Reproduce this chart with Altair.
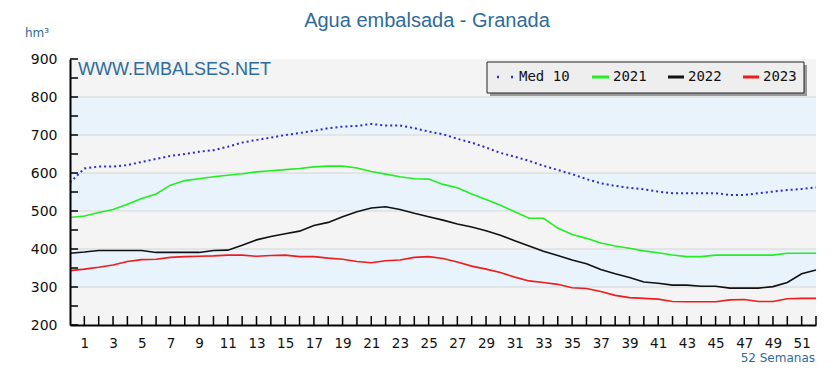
import altair as alt
import pandas as pd

# ---------------- data ----------------
weeks = list(range(0, 53))
med10 = [575, 612, 617, 617, 621, 629, 637, 645, 650, 656, 660, 669, 680, 687, 693,
         700, 705, 711, 718, 722, 724, 729, 725, 725, 718, 709, 702, 690, 680, 667,
         653, 643, 632, 619, 608, 597, 584, 573, 566, 561, 557, 551, 547, 547, 547,
         547, 542, 542, 547, 551, 555, 558, 562]
y2021 = [483, 487, 496, 504, 518, 533, 545, 568, 580, 585, 590, 594, 598, 603, 606,
         609, 612, 616, 618, 618, 613, 604, 597, 590, 585, 584, 570, 561, 545, 530,
         515, 498, 481, 481, 455, 438, 428, 416, 408, 402, 395, 390, 384, 380, 380,
         384, 384, 384, 384, 384, 389, 389, 389]
y2022 = [389, 392, 396, 396, 396, 396, 391, 391, 391, 391, 396, 397, 410, 424, 433,
         440, 447, 462, 470, 485, 498, 508, 511, 504, 494, 485, 476, 466, 458, 448,
         436, 422, 408, 394, 383, 371, 361, 346, 335, 325, 313, 310, 305, 305, 302,
         302, 297, 297, 297, 301, 312, 335, 345]
y2023 = [343, 347, 352, 358, 367, 372, 373, 378, 380, 381, 382, 384, 384, 381, 383,
         384, 380, 380, 376, 373, 367, 364, 369, 371, 378, 380, 375, 366, 355, 347,
         338, 326, 316, 312, 307, 298, 296, 288, 278, 272, 270, 268, 262, 261, 261,
         261, 266, 267, 262, 262, 269, 270, 270]

series_names = ["Med 10", "2021", "2022", "2023"]
series_colors = ["#2b2bd6", "#22ee22", "#111111", "#ee1c1c"]

y_grid = [300, 400, 500, 600, 700, 800]
y_labels = [200, 300, 400, 500, 600, 700, 800, 900]
y_minor = list(range(200, 901, 50))
x_label_weeks = list(range(1, 52, 2))
x_tick_weeks = list(range(1, 53))
band_lo = [200, 300, 400, 500, 600, 700, 800]
band_hi = [300, 400, 500, 600, 700, 800, 900]
band_col = ["#f4f4f4", "#e9f3fb", "#f4f4f4", "#e9f3fb", "#f4f4f4", "#e9f3fb", "#f4f4f4"]

title_text = "Agua embalsada - Granada"
unit_text = "hm³"
site_text = "WWW.EMBALSES.NET"
weeks_text = "52 Semanas"

W, H = 746, 266
BLUE_TXT = "#2f6b9a"
FONT = "DejaVu Sans"

# ---------------- tables ----------------
rows = []
for name, vals in zip(series_names, [med10, y2021, y2022, y2023]):
    for w, v in zip(weeks, vals):
        rows.append({"week": w, "value": v, "series": name})
df = pd.DataFrame(rows)
bands = pd.DataFrame({"lo": band_lo, "hi": band_hi, "col": band_col})
grid_df = pd.DataFrame({"v": y_grid})
ytick_df = pd.DataFrame({"v": y_minor})
xtick_df = pd.DataFrame({"week": x_tick_weeks})
one = pd.DataFrame({"a": [0]})

xscale = alt.Scale(domain=[0, 52], nice=False, zero=False)
yscale = alt.Scale(domain=[200, 900], nice=False, zero=False)

xaxis = alt.Axis(values=x_label_weeks, title=None, ticks=False, grid=False,
                 domainColor="#000000", domainWidth=2, labelFont=FONT,
                 labelFontSize=13.5, labelColor="#111111", labelPadding=11,
                 labelFlush=False, zindex=1)
yaxis = alt.Axis(values=y_labels, title=None, ticks=False, grid=False,
                 domainColor="#000000", domainWidth=2, labelFont=FONT,
                 labelFontSize=14, labelColor="#111111", labelPadding=13,
                 labelFlush=False, zindex=1)

band_layer = alt.Chart(bands).mark_rect().encode(
    x=alt.value(0), x2=alt.value(W),
    y=alt.Y("lo:Q", scale=yscale, axis=yaxis), y2="hi:Q",
    color=alt.Color("col:N", scale=None),
)

grid_layer = alt.Chart(grid_df).mark_rule(color="#d6d6d6", strokeWidth=1).encode(
    x=alt.value(0), x2=alt.value(W),
    y=alt.Y("v:Q", scale=yscale, axis=yaxis),
)

ytick_layer = alt.Chart(ytick_df).mark_rule(color="#000000", strokeWidth=1.5).encode(
    x=alt.value(0), x2=alt.value(8),
    y=alt.Y("v:Q", scale=yscale, axis=yaxis),
)

xtick_layer = alt.Chart(xtick_df).mark_rule(color="#000000", strokeWidth=1.5).encode(
    x=alt.X("week:Q", scale=xscale, axis=xaxis),
    y=alt.value(H), y2=alt.value(H - 9),
)

med_layer = alt.Chart(df[df.series == "Med 10"]).mark_line(
    strokeDash=[2, 3], strokeWidth=2, color=series_colors[0]
).encode(
    x=alt.X("week:Q", scale=xscale, axis=xaxis),
    y=alt.Y("value:Q", scale=yscale, axis=yaxis),
)

year_layer = alt.Chart(df[df.series != "Med 10"]).mark_line(strokeWidth=1.6).encode(
    x=alt.X("week:Q", scale=xscale, axis=xaxis),
    y=alt.Y("value:Q", scale=yscale, axis=yaxis),
    color=alt.Color("series:N", scale=alt.Scale(domain=series_names, range=series_colors),
                    legend=None),
    detail="series:N",
)

def txt(text, x, y, size, color, font=FONT, align="left", baseline="middle"):
    return alt.Chart(one).mark_text(
        text=text, align=align, baseline=baseline, font=font, fontSize=size,
        color=color
    ).encode(x=alt.value(x), y=alt.value(y))

def rect(x1, x2, y1, y2, fill, stroke=None):
    kw = dict(fill=fill)
    if stroke:
        kw.update(stroke=stroke, strokeWidth=1)
    return alt.Chart(one).mark_rect(**kw).encode(
        x=alt.value(x1), x2=alt.value(x2), y=alt.value(y1), y2=alt.value(y2))

def seg(x1, x2, y, color, width=3, dash=None):
    kw = dict(color=color, strokeWidth=width)
    if dash:
        kw.update(strokeDash=dash)
    return alt.Chart(one).mark_rule(**kw).encode(
        x=alt.value(x1), x2=alt.value(x2), y=alt.value(y))

LY = 18
MONO = "DejaVu Sans Mono"
legend_layers = [
    rect(420, 737, 6, 37, "#9a9a9a"),
    rect(417, 734, 3, 34, "#eeeeee", "#222222"),
    seg(427, 443, LY, series_colors[0], width=2.5, dash=[2, 12]),
    txt(series_names[0], 449, LY, 14, "#111111", font=MONO),
    seg(522, 539, LY, series_colors[1]),
    txt(series_names[1], 543, LY, 14, "#111111", font=MONO),
    seg(598, 614, LY, series_colors[2]),
    txt(series_names[2], 618, LY, 14, "#111111", font=MONO),
    seg(673, 689, LY, series_colors[3]),
    txt(series_names[3], 693, LY, 14, "#111111", font=MONO),
]

text_layers = [
    txt(title_text, 357, -32, 20, BLUE_TXT, font="Liberation Sans", align="center",
        baseline="alphabetic"),
    txt(unit_text, -45, -26, 12, BLUE_TXT),
    txt(site_text, 8, 11, 18, BLUE_TXT, font="Liberation Sans"),
    txt(weeks_text, 745, 299, 12, BLUE_TXT, align="right"),
]

chart = alt.layer(
    band_layer, grid_layer, ytick_layer, xtick_layer, med_layer, year_layer,
    *legend_layers, *text_layers
).properties(
    width=W, height=H,
    autosize=alt.AutoSizeParams(type="none"),
    padding={"left": 62, "top": 51, "right": 10, "bottom": 43},
    background="#ffffff",
).configure_view(stroke=None)

chart.save("out.html", embed_options={"renderer": "svg", "actions": False})
